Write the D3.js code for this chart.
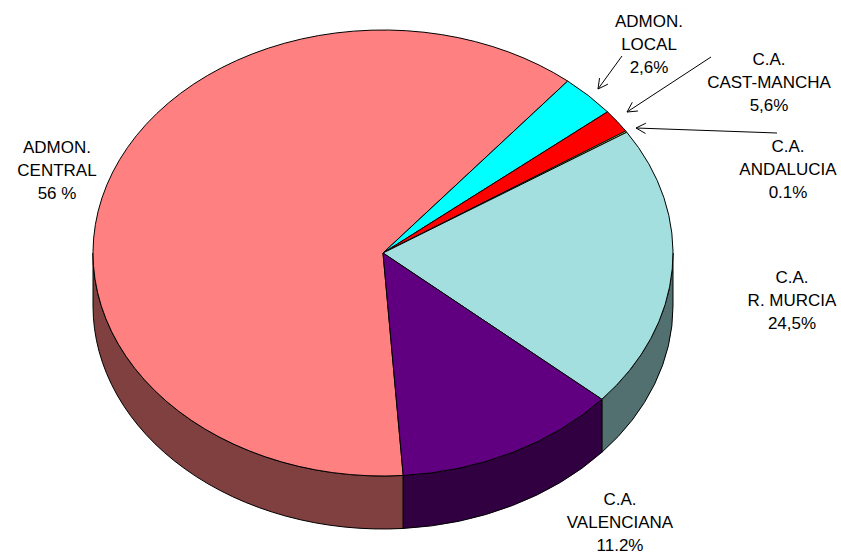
<!DOCTYPE html>
<html>
<head>
<meta charset="utf-8">
<script src="https://cdn.jsdelivr.net/npm/d3@7"></script>
<style>
  body { margin: 0; background: #fff; }
  svg { display: block; }
  text { font-family: 'Liberation Sans', Arial, sans-serif; font-size: 17px; fill: #000; }
</style>
</head>
<body>
<svg id="chart"></svg>
<script>
// slices in drawing order (clockwise), sizes
let names = ['ADMON. CENTRAL', 'ADMON. LOCAL', 'C.A. CAST-MANCHA', 'C.A. ANDALUCIA', 'C.A. R. MURCIA', 'C.A. VALENCIANA']
let values = [62.1, 3.1, 1.7, 0.1, 20.5, 12.5]
let colors = ['#FF8080', '#00FFFF', '#FF0000', '#FFFF80', '#A4DFE0', '#600080']
// label text, as printed on the chart
let labelLines = [
  ['ADMON.', 'CENTRAL', '56 %'],
  ['ADMON.', 'LOCAL', '2,6%'],
  ['C.A.', 'CAST-MANCHA', '5,6%'],
  ['C.A.', 'ANDALUCIA', '0.1%'],
  ['C.A.', 'R. MURCIA', '24,5%'],
  ['C.A.', 'VALENCIANA', '11.2%']
]

let width = 841
let height = 552
let cx = 383
let cy = 253
let rx = 290
let ry = 223
let depth = 53
let startDeg = 176

// label anchor (centre x, first baseline) and arrows, layout only
let labelPos = [[57, 153], [649, 27], [769, 65], [788, 152], [792, 283], [620, 505]]
let arrows = [
  null,
  [[622, 56], [598, 89]],
  [[711, 57], [627, 112]],
  [[777, 133], [636, 128]],
  null,
  null
]

let svg = d3.select('#chart').attr('width', width).attr('height', height)
svg.append('rect').attr('width', width).attr('height', height).attr('fill', '#fff')

let rad = Math.PI / 180
let pie = d3.pie().sort(null).value(d => d)
  .startAngle(startDeg * rad).endAngle((startDeg + 360) * rad)
let arcs = pie(values)

function pt (a, dy) {
  return [cx + rx * Math.sin(a), cy - ry * Math.cos(a) + dy]
}

// outer walls, only the front half (3 o'clock -> 9 o'clock via bottom)
let walls = svg.append('g')
arcs.forEach(function (d, i) {
  for (let k = -1; k <= 1; k++) {
    let lo = Math.max(d.startAngle, (90 + 360 * k) * rad)
    let hi = Math.min(d.endAngle, (270 + 360 * k) * rad)
    if (hi <= lo) continue
    let p0 = pt(lo, 0)
    let p1 = pt(hi, 0)
    let q1 = pt(hi, depth)
    let q0 = pt(lo, depth)
    let large = hi - lo > Math.PI ? 1 : 0
    let path = 'M' + p0 + 'A' + rx + ',' + ry + ' 0 ' + large + ' 1 ' + p1 +
      'L' + q1 + 'A' + rx + ',' + ry + ' 0 ' + large + ' 0 ' + q0 + 'Z'
    walls.append('path')
      .attr('d', path)
      .attr('fill', d3.color(colors[i]).darker(1.0).formatHex())
      .attr('fill', d3.interpolateRgb(colors[i], '#000')(0.5))
      .attr('stroke', '#000')
      .attr('stroke-width', 1)
      .attr('stroke-linejoin', 'round')
  }
})

// top face: circular arcs squashed into the ellipse
let arc = d3.arc().innerRadius(0).outerRadius(rx)
svg.append('g')
  .attr('transform', 'translate(' + cx + ',' + cy + ') scale(1,' + (ry / rx) + ')')
  .selectAll('path')
  .data(arcs)
  .join('path')
  .attr('d', arc)
  .attr('fill', (d, i) => colors[i])
  .attr('stroke', '#000')
  .attr('stroke-width', 1)
  .attr('stroke-linejoin', 'round')
  .attr('vector-effect', 'non-scaling-stroke')

// labels
let lab = svg.append('g')
labelLines.forEach(function (lines, i) {
  let t = lab.append('text')
    .attr('text-anchor', 'middle')
    .attr('x', labelPos[i][0])
    .attr('y', labelPos[i][1])
  lines.forEach(function (s, j) {
    t.append('tspan')
      .attr('x', labelPos[i][0])
      .attr('dy', j === 0 ? 0 : 23)
      .text(s)
  })
})

// leader arrows with open heads
let arrowG = svg.append('g').attr('stroke', '#000').attr('stroke-width', 1).attr('fill', 'none')
arrows.forEach(function (a) {
  if (!a) return
  let [s, e] = a
  arrowG.append('line').attr('x1', s[0]).attr('y1', s[1]).attr('x2', e[0]).attr('y2', e[1])
  let ang = Math.atan2(s[1] - e[1], s[0] - e[0])
  let len = 11
  let spread = 28 * rad
  let h1 = [e[0] + len * Math.cos(ang + spread), e[1] + len * Math.sin(ang + spread)]
  let h2 = [e[0] + len * Math.cos(ang - spread), e[1] + len * Math.sin(ang - spread)]
  arrowG.append('path').attr('d', 'M' + h1 + 'L' + e + 'L' + h2)
})
</script>
</body>
</html>
